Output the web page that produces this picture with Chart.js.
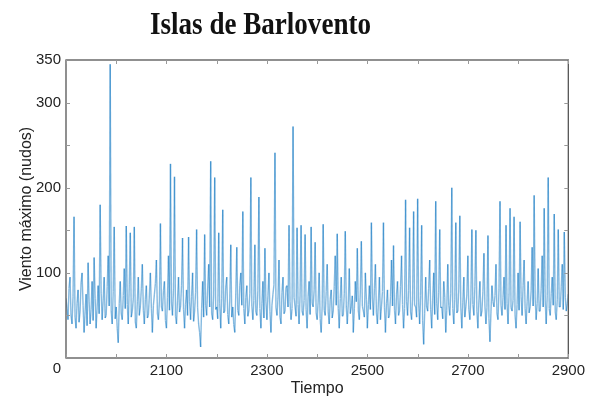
<!DOCTYPE html>
<html>
<head>
<meta charset="utf-8">
<script src="https://cdn.jsdelivr.net/npm/chart.js@4"></script>
<style>
    body { margin: 0; background: #fff; }
    #chart { display: block; }
</style>
</head>
<body>
<canvas id="chart" width="589" height="401"></canvas>
<script>
// Wind readings, one every 2 time units from 1900 to 2900
const valores = [
    70, 58, 45, 82, 95, 50, 40, 72, 166, 48, 35, 64, 80, 42, 55, 88, 100, 62, 30, 54,
    75, 38, 112, 66, 40, 57, 90, 44, 118, 70, 35, 60, 85, 52, 180, 76, 45, 68, 95, 47,
    50, 84, 120, 61, 345, 55, 40, 78, 154, 46, 60, 35, 18, 64, 90, 52, 45, 73, 105, 58,
    155, 63, 40, 86, 147, 48, 55, 70, 154, 42, 35, 66, 95, 50, 60, 82, 110, 56, 40, 69,
    85, 47, 50, 74, 100, 58, 30, 62, 75, 88, 115, 52, 45, 67, 158, 60, 55, 79, 90, 44,
    35, 71, 120, 56, 228, 65, 50, 80, 213, 49, 40, 68, 95, 54, 60, 85, 141, 57, 35, 63,
    80, 50, 142, 66, 45, 72, 100, 43, 55, 77, 151, 59, 40, 30, 13, 58, 90, 48, 145, 62,
    50, 81, 110, 60, 231, 52, 45, 74, 212, 57, 60, 46, 147, 64, 35, 70, 174, 53, 55, 83,
    95, 51, 40, 67, 133, 48, 60, 39, 30, 75, 130, 56, 50, 85, 100, 62, 172, 58, 40, 71,
    85, 49, 55, 76, 212, 61, 45, 68, 133, 54, 50, 79, 189, 58, 35, 64, 90, 47, 129, 66,
    45, 73, 100, 55, 30, 62, 75, 86, 241, 59, 50, 70, 115, 48, 40, 77, 95, 52, 55, 83,
    85, 60, 156, 66, 45, 58, 272, 71, 60, 49, 153, 63, 40, 74, 156, 55, 50, 68, 145, 57,
    35, 72, 90, 51, 154, 64, 60, 80, 136, 53, 45, 67, 100, 46, 30, 61, 157, 56, 50, 78,
    110, 54, 40, 69, 80, 47, 55, 84, 120, 62, 146, 58, 35, 70, 95, 49, 50, 76, 149, 60,
    40, 65, 105, 52, 60, 73, 30, 58, 90, 66, 129, 55, 45, 80, 137, 61, 55, 48, 100, 69,
    35, 63, 85, 57, 159, 70, 50, 82, 110, 53, 40, 67, 95, 45, 60, 78, 159, 59, 30, 64,
    80, 47, 50, 72, 115, 61, 132, 56, 40, 75, 90, 50, 55, 84, 120, 63, 35, 58, 186, 66,
    50, 79, 153, 54, 45, 70, 172, 62, 60, 48, 187, 65, 40, 73, 156, 44, 16, 52, 95, 60,
    55, 82, 115, 57, 35, 68, 100, 51, 184, 64, 45, 77, 151, 59, 60, 46, 90, 71, 30, 56,
    110, 62, 50, 76, 200, 58, 40, 69, 159, 53, 55, 81, 167, 60, 35, 65, 95, 48, 60, 74,
    120, 57, 45, 70, 151, 63, 50, 84, 150, 55, 35, 67, 90, 49, 55, 78, 123, 61, 40, 59,
    144, 46, 19, 54, 85, 66, 60, 73, 110, 52, 45, 80, 184, 62, 50, 71, 95, 57, 156, 64,
    40, 75, 176, 59, 55, 68, 166, 50, 35, 63, 100, 56, 160, 72, 50, 85, 115, 58, 40, 66,
    90, 53, 60, 79, 130, 61, 191, 70, 45, 64, 105, 55, 55, 82, 120, 60, 176, 67, 40, 73,
    212, 58, 50, 76, 95, 62, 169, 54, 45, 69, 151, 60, 60, 84, 110, 57, 148, 71, 55, 64,
    75
];
const tiempo = valores.map((v, i) => 1900 + i * 2);

const xTicks = [2100, 2300, 2500, 2700, 2900];
const yTicks = [0, 100, 200, 300, 350];
const xMinor = [1900, 2000, 2100, 2200, 2300, 2400, 2500, 2600, 2700, 2800, 2900];
const yMinor = [50, 100, 150, 200, 250, 300];

const tickFont = { family: '"Liberation Sans", sans-serif', size: 15 };
const titleFont = { family: '"Liberation Sans", sans-serif', size: 16 };
const textColor = '#222';

// frame, inner ticks, title and the lone "0" below the corner
const framePlugin = {
    id: 'frame',
    afterDraw(chart) {
        const ctx = chart.ctx;
        const a = chart.chartArea;
        const xs = chart.scales.x;
        const ys = chart.scales.y;
        ctx.save();
        ctx.strokeStyle = '#555';
        ctx.lineWidth = 1.3;
        ctx.strokeRect(a.left, a.top, a.right - a.left, a.bottom - a.top);

        ctx.strokeStyle = '#999';
        ctx.lineWidth = 1;
        ctx.beginPath();
        xMinor.forEach(v => {
            const px = Math.round(xs.getPixelForValue(v)) + 0.5;
            ctx.moveTo(px, a.bottom); ctx.lineTo(px, a.bottom - 4);
            ctx.moveTo(px, a.top); ctx.lineTo(px, a.top + 4);
        });
        yMinor.forEach(v => {
            const py = Math.round(ys.getPixelForValue(v)) + 0.5;
            ctx.moveTo(a.left, py); ctx.lineTo(a.left + 4, py);
            ctx.moveTo(a.right, py); ctx.lineTo(a.right - 4, py);
        });
        ctx.stroke();

        ctx.fillStyle = textColor;
        ctx.font = '15px ' + tickFont.family;
        ctx.textAlign = 'right';
        ctx.textBaseline = 'middle';
        ctx.fillText('0', a.left - 5, a.bottom + 11);

        // condensed serif title
        ctx.font = 'bold 31px "Liberation Serif", serif';
        const titulo = 'Islas de Barlovento';
        const w = ctx.measureText(titulo).width;
        ctx.translate(260.5, 34);
        ctx.scale(221 / w, 1);
        ctx.fillStyle = '#111';
        ctx.textAlign = 'center';
        ctx.textBaseline = 'alphabetic';
        ctx.fillText(titulo, 0, 0);
        ctx.restore();
    }
};

// alternate two near-identical colours so each segment is stroked on its own
// and overlapping segments build up a darker core, as in the original
const segColor = c => c.p0DataIndex % 2 ? 'rgba(0, 110, 190, 0.48)' : 'rgba(0, 111, 190, 0.48)';

new Chart(document.getElementById('chart'), {
    type: 'line',
    data: {
        labels: tiempo,
        datasets: [{
            data: valores.map((v, i) => ({ x: tiempo[i], y: v })),
            borderColor: 'rgba(0, 110, 190, 0.48)',
            borderWidth: 1.4,
            pointRadius: 0,
            tension: 0,
            fill: false,
            segment: { borderColor: segColor }
        }]
    },
    options: {
        responsive: false,
        animation: false,
        layout: { padding: { top: 60, right: 19, left: 0, bottom: 0 } },
        plugins: {
            legend: { display: false },
            tooltip: { enabled: false }
        },
        scales: {
            x: {
                type: 'linear',
                min: 1900,
                max: 2900,
                afterBuildTicks: s => { s.ticks = xTicks.map(v => ({ value: v })); },
                afterFit: s => { s.height = 43; },
                grid: { display: false, drawTicks: false },
                border: { display: false },
                ticks: { font: tickFont, color: textColor, padding: 4, maxRotation: 0, callback: v => String(v) },
                title: { display: true, text: 'Tiempo', font: titleFont, color: textColor, padding: { top: 0, bottom: 3 } }
            },
            y: {
                min: 0,
                max: 350,
                afterBuildTicks: s => { s.ticks = yTicks.map(v => ({ value: v })); },
                afterFit: s => { s.width = 66; },
                grid: { display: false, drawTicks: false },
                border: { display: false },
                ticks: { font: tickFont, color: textColor, padding: 5, callback: v => v === 0 ? '' : String(v) },
                title: { display: true, text: 'Viento máximo (nudos)', font: titleFont, color: textColor, padding: { top: 17, bottom: 0 } }
            }
        }
    },
    plugins: [framePlugin]
});
</script>
</body>
</html>
